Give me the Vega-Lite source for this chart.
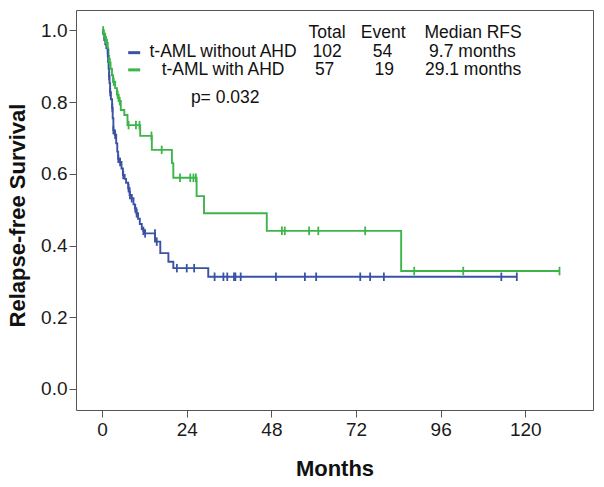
{
  "$schema": "https://vega.github.io/schema/vega-lite/v6.json",
  "width": 517,
  "height": 400,
  "autosize": {"type": "none"},
  "padding": {"left": 76, "top": 10, "right": 11, "bottom": 77},
  "background": "white",
  "data": {"values": [{}]},
  "config": {
    "view": {"stroke": "#555555", "strokeWidth": 1},
    "font": "Liberation Sans",
    "axis": {
      "grid": false,
      "domain": false,
      "tickColor": "#555555",
      "tickSize": 7,
      "tickWidth": 1,
      "labelFont": "Liberation Sans",
      "labelFontSize": 19,
      "labelColor": "#1a1a1a",
      "titleFont": "Liberation Sans",
      "titleFontSize": 22,
      "titleFontWeight": "bold",
      "titleColor": "#111111"
    }
  },
  "datasets": {
    "steps": [
      {"grp": "a", "months": 0, "surv": 1.0},
      {"grp": "a", "months": 0.3, "surv": 0.99},
      {"grp": "a", "months": 0.6, "surv": 0.973},
      {"grp": "a", "months": 0.9, "surv": 0.961},
      {"grp": "a", "months": 1.2, "surv": 0.951},
      {"grp": "a", "months": 1.6, "surv": 0.937},
      {"grp": "a", "months": 1.7, "surv": 0.912},
      {"grp": "a", "months": 1.85, "surv": 0.893},
      {"grp": "a", "months": 2.0, "surv": 0.873},
      {"grp": "a", "months": 2.1, "surv": 0.853},
      {"grp": "a", "months": 2.27, "surv": 0.828},
      {"grp": "a", "months": 2.5, "surv": 0.808},
      {"grp": "a", "months": 2.84, "surv": 0.784},
      {"grp": "a", "months": 3.0, "surv": 0.755},
      {"grp": "a", "months": 3.2, "surv": 0.722},
      {"grp": "a", "months": 3.6, "surv": 0.709},
      {"grp": "a", "months": 4.0, "surv": 0.685},
      {"grp": "a", "months": 4.3, "surv": 0.662},
      {"grp": "a", "months": 4.54, "surv": 0.642},
      {"grp": "a", "months": 5.0, "surv": 0.633},
      {"grp": "a", "months": 5.5, "surv": 0.615},
      {"grp": "a", "months": 5.9, "surv": 0.597},
      {"grp": "a", "months": 6.4, "surv": 0.586},
      {"grp": "a", "months": 6.81, "surv": 0.575},
      {"grp": "a", "months": 7.4, "surv": 0.56},
      {"grp": "a", "months": 7.8, "surv": 0.541},
      {"grp": "a", "months": 8.3, "surv": 0.532},
      {"grp": "a", "months": 8.9, "surv": 0.515},
      {"grp": "a", "months": 9.3, "surv": 0.504},
      {"grp": "a", "months": 9.7, "surv": 0.49},
      {"grp": "a", "months": 10.2, "surv": 0.475},
      {"grp": "a", "months": 10.7, "surv": 0.46},
      {"grp": "a", "months": 11.26, "surv": 0.446},
      {"grp": "a", "months": 11.7, "surv": 0.441},
      {"grp": "a", "months": 12.1, "surv": 0.434},
      {"grp": "a", "months": 15.0, "surv": 0.411},
      {"grp": "a", "months": 16.5, "surv": 0.379},
      {"grp": "a", "months": 18.8, "surv": 0.355},
      {"grp": "a", "months": 20.2, "surv": 0.337},
      {"grp": "a", "months": 30.1, "surv": 0.313},
      {"grp": "a", "months": 117.6, "surv": 0.313},
      {"grp": "b", "months": 0, "surv": 1.0},
      {"grp": "b", "months": 0.5, "surv": 0.982},
      {"grp": "b", "months": 1.1, "surv": 0.965},
      {"grp": "b", "months": 1.6, "surv": 0.947},
      {"grp": "b", "months": 1.8, "surv": 0.929},
      {"grp": "b", "months": 2.0, "surv": 0.911},
      {"grp": "b", "months": 2.4, "surv": 0.893},
      {"grp": "b", "months": 2.8, "surv": 0.875},
      {"grp": "b", "months": 3.1, "surv": 0.857},
      {"grp": "b", "months": 3.7, "surv": 0.839},
      {"grp": "b", "months": 4.2, "surv": 0.821},
      {"grp": "b", "months": 4.7, "surv": 0.803},
      {"grp": "b", "months": 5.3, "surv": 0.778},
      {"grp": "b", "months": 6.3, "surv": 0.764},
      {"grp": "b", "months": 7.2, "surv": 0.736},
      {"grp": "b", "months": 10.8, "surv": 0.706},
      {"grp": "b", "months": 14.1, "surv": 0.667},
      {"grp": "b", "months": 19.8, "surv": 0.63},
      {"grp": "b", "months": 20.2, "surv": 0.589},
      {"grp": "b", "months": 26.8, "surv": 0.538},
      {"grp": "b", "months": 28.9, "surv": 0.49},
      {"grp": "b", "months": 46.7, "surv": 0.441},
      {"grp": "b", "months": 84.8, "surv": 0.329},
      {"grp": "b", "months": 129.7, "surv": 0.329}
    ],
    "censor": [
      {"grp": "a", "months": 1.6, "surv": 0.937},
      {"grp": "a", "months": 2.0, "surv": 0.873},
      {"grp": "a", "months": 2.3, "surv": 0.828},
      {"grp": "a", "months": 2.9, "surv": 0.784},
      {"grp": "a", "months": 3.2, "surv": 0.722},
      {"grp": "a", "months": 3.7, "surv": 0.709},
      {"grp": "a", "months": 4.6, "surv": 0.642},
      {"grp": "a", "months": 5.1, "surv": 0.633},
      {"grp": "a", "months": 6.0, "surv": 0.597},
      {"grp": "a", "months": 7.5, "surv": 0.56},
      {"grp": "a", "months": 7.9, "surv": 0.541},
      {"grp": "a", "months": 8.4, "surv": 0.532},
      {"grp": "a", "months": 9.4, "surv": 0.504},
      {"grp": "a", "months": 9.8, "surv": 0.49},
      {"grp": "a", "months": 11.7, "surv": 0.441},
      {"grp": "a", "months": 12.2, "surv": 0.434},
      {"grp": "a", "months": 15.0, "surv": 0.434},
      {"grp": "a", "months": 15.5, "surv": 0.411},
      {"grp": "a", "months": 21.2, "surv": 0.337},
      {"grp": "a", "months": 24.0, "surv": 0.337},
      {"grp": "a", "months": 26.1, "surv": 0.337},
      {"grp": "a", "months": 31.9, "surv": 0.313},
      {"grp": "a", "months": 34.4, "surv": 0.313},
      {"grp": "a", "months": 35.5, "surv": 0.313},
      {"grp": "a", "months": 37.4, "surv": 0.313},
      {"grp": "a", "months": 37.8, "surv": 0.313},
      {"grp": "a", "months": 39.3, "surv": 0.313},
      {"grp": "a", "months": 49.3, "surv": 0.313},
      {"grp": "a", "months": 57.5, "surv": 0.313},
      {"grp": "a", "months": 60.7, "surv": 0.313},
      {"grp": "a", "months": 73.2, "surv": 0.313},
      {"grp": "a", "months": 76.0, "surv": 0.313},
      {"grp": "a", "months": 79.9, "surv": 0.313},
      {"grp": "a", "months": 113.2, "surv": 0.313},
      {"grp": "a", "months": 117.6, "surv": 0.313},
      {"grp": "b", "months": 0.3, "surv": 1.0},
      {"grp": "b", "months": 0.9, "surv": 0.982},
      {"grp": "b", "months": 1.4, "surv": 0.965},
      {"grp": "b", "months": 2.2, "surv": 0.911},
      {"grp": "b", "months": 3.3, "surv": 0.857},
      {"grp": "b", "months": 4.4, "surv": 0.821},
      {"grp": "b", "months": 5.0, "surv": 0.803},
      {"grp": "b", "months": 7.5, "surv": 0.736},
      {"grp": "b", "months": 9.6, "surv": 0.736},
      {"grp": "b", "months": 10.6, "surv": 0.736},
      {"grp": "b", "months": 14.0, "surv": 0.706},
      {"grp": "b", "months": 16.9, "surv": 0.667},
      {"grp": "b", "months": 22.1, "surv": 0.589},
      {"grp": "b", "months": 25.0, "surv": 0.589},
      {"grp": "b", "months": 25.9, "surv": 0.589},
      {"grp": "b", "months": 26.6, "surv": 0.589},
      {"grp": "b", "months": 51.0, "surv": 0.441},
      {"grp": "b", "months": 51.8, "surv": 0.441},
      {"grp": "b", "months": 58.7, "surv": 0.441},
      {"grp": "b", "months": 61.3, "surv": 0.441},
      {"grp": "b", "months": 74.6, "surv": 0.441},
      {"grp": "b", "months": 88.5, "surv": 0.329},
      {"grp": "b", "months": 102.4, "surv": 0.329},
      {"grp": "b", "months": 129.7, "surv": 0.329}
    ]
  },
  "encoding": {
    "x": {
      "type": "quantitative",
      "scale": {"domain": [-7.4, 139.2], "nice": false, "zero": false},
      "axis": {"title": "Months", "values": [0, 24, 48, 72, 96, 120], "labelPadding": 3, "titleY": 65, "titleBaseline": "alphabetic"}
    },
    "y": {
      "type": "quantitative",
      "scale": {"domain": [-0.0586, 1.057], "nice": false, "zero": false},
      "axis": {"title": "Relapse-free Survival", "values": [0, 0.2, 0.4, 0.6, 0.8, 1.0], "format": ".1f", "labelPadding": 2, "titleX": -52, "titleY": 205, "titleAngle": -90, "titleBaseline": "alphabetic", "titleAlign": "center"}
    }
  },
  "layer": [
    {
      "data": {"name": "steps"},
      "mark": {"type": "line", "interpolate": "step-after", "strokeWidth": 1.9},
      "encoding": {
        "x": {"field": "months", "type": "quantitative"},
        "y": {"field": "surv", "type": "quantitative"},
        "color": {"field": "grp", "type": "nominal", "scale": {"domain": ["a", "b"], "range": ["#3a52a4", "#3cb54a"]}, "legend": null}
      }
    },
    {
      "data": {"name": "censor"},
      "mark": {"type": "point", "shape": "M0,-1L0,1", "size": 72, "strokeWidth": 1.8, "filled": false, "opacity": 1},
      "encoding": {
        "x": {"field": "months", "type": "quantitative"},
        "y": {"field": "surv", "type": "quantitative"},
        "color": {"field": "grp", "type": "nominal", "scale": {"domain": ["a", "b"], "range": ["#3a52a4", "#3cb54a"]}, "legend": null}
      }
    },
    {"mark": {"type": "rule", "strokeWidth": 3, "color": "#3a52a4"}, "encoding": {"x": {"datum": 7.4}, "x2": {"datum": 10.8}, "y": {"datum": 0.938}}},
    {"mark": {"type": "rule", "strokeWidth": 3, "color": "#3cb54a"}, "encoding": {"x": {"datum": 7.4}, "x2": {"datum": 10.8}, "y": {"datum": 0.89}}},
    {"mark": {"type": "text", "text": "Total", "fontSize": 17.5, "align": "center", "baseline": "alphabetic", "color": "#111111"}, "encoding": {"x": {"datum": 63.8}, "y": {"datum": 0.978}}},
    {"mark": {"type": "text", "text": "Event", "fontSize": 17.5, "align": "center", "baseline": "alphabetic", "color": "#111111"}, "encoding": {"x": {"datum": 79.7}, "y": {"datum": 0.978}}},
    {"mark": {"type": "text", "text": "Median RFS", "fontSize": 17.5, "align": "center", "baseline": "alphabetic", "color": "#111111"}, "encoding": {"x": {"datum": 105.2}, "y": {"datum": 0.978}}},
    {"mark": {"type": "text", "text": "t-AML without AHD", "fontSize": 17.5, "align": "center", "baseline": "alphabetic", "color": "#111111"}, "encoding": {"x": {"datum": 34.3}, "y": {"datum": 0.927}}},
    {"mark": {"type": "text", "text": "102", "fontSize": 17.5, "align": "center", "baseline": "alphabetic", "color": "#111111"}, "encoding": {"x": {"datum": 63.8}, "y": {"datum": 0.927}}},
    {"mark": {"type": "text", "text": "54", "fontSize": 17.5, "align": "center", "baseline": "alphabetic", "color": "#111111"}, "encoding": {"x": {"datum": 79.5}, "y": {"datum": 0.927}}},
    {"mark": {"type": "text", "text": "9.7 months", "fontSize": 17.5, "align": "center", "baseline": "alphabetic", "color": "#111111"}, "encoding": {"x": {"datum": 105.0}, "y": {"datum": 0.927}}},
    {"mark": {"type": "text", "text": "t-AML with AHD", "fontSize": 17.5, "align": "center", "baseline": "alphabetic", "color": "#111111"}, "encoding": {"x": {"datum": 34.3}, "y": {"datum": 0.876}}},
    {"mark": {"type": "text", "text": "57", "fontSize": 17.5, "align": "center", "baseline": "alphabetic", "color": "#111111"}, "encoding": {"x": {"datum": 63.1}, "y": {"datum": 0.876}}},
    {"mark": {"type": "text", "text": "19", "fontSize": 17.5, "align": "center", "baseline": "alphabetic", "color": "#111111"}, "encoding": {"x": {"datum": 80.0}, "y": {"datum": 0.876}}},
    {"mark": {"type": "text", "text": "29.1 months", "fontSize": 17.5, "align": "center", "baseline": "alphabetic", "color": "#111111"}, "encoding": {"x": {"datum": 105.2}, "y": {"datum": 0.876}}},
    {"mark": {"type": "text", "text": "p= 0.032", "fontSize": 17.5, "align": "center", "baseline": "alphabetic", "color": "#111111"}, "encoding": {"x": {"datum": 34.9}, "y": {"datum": 0.798}}}
  ]
}
